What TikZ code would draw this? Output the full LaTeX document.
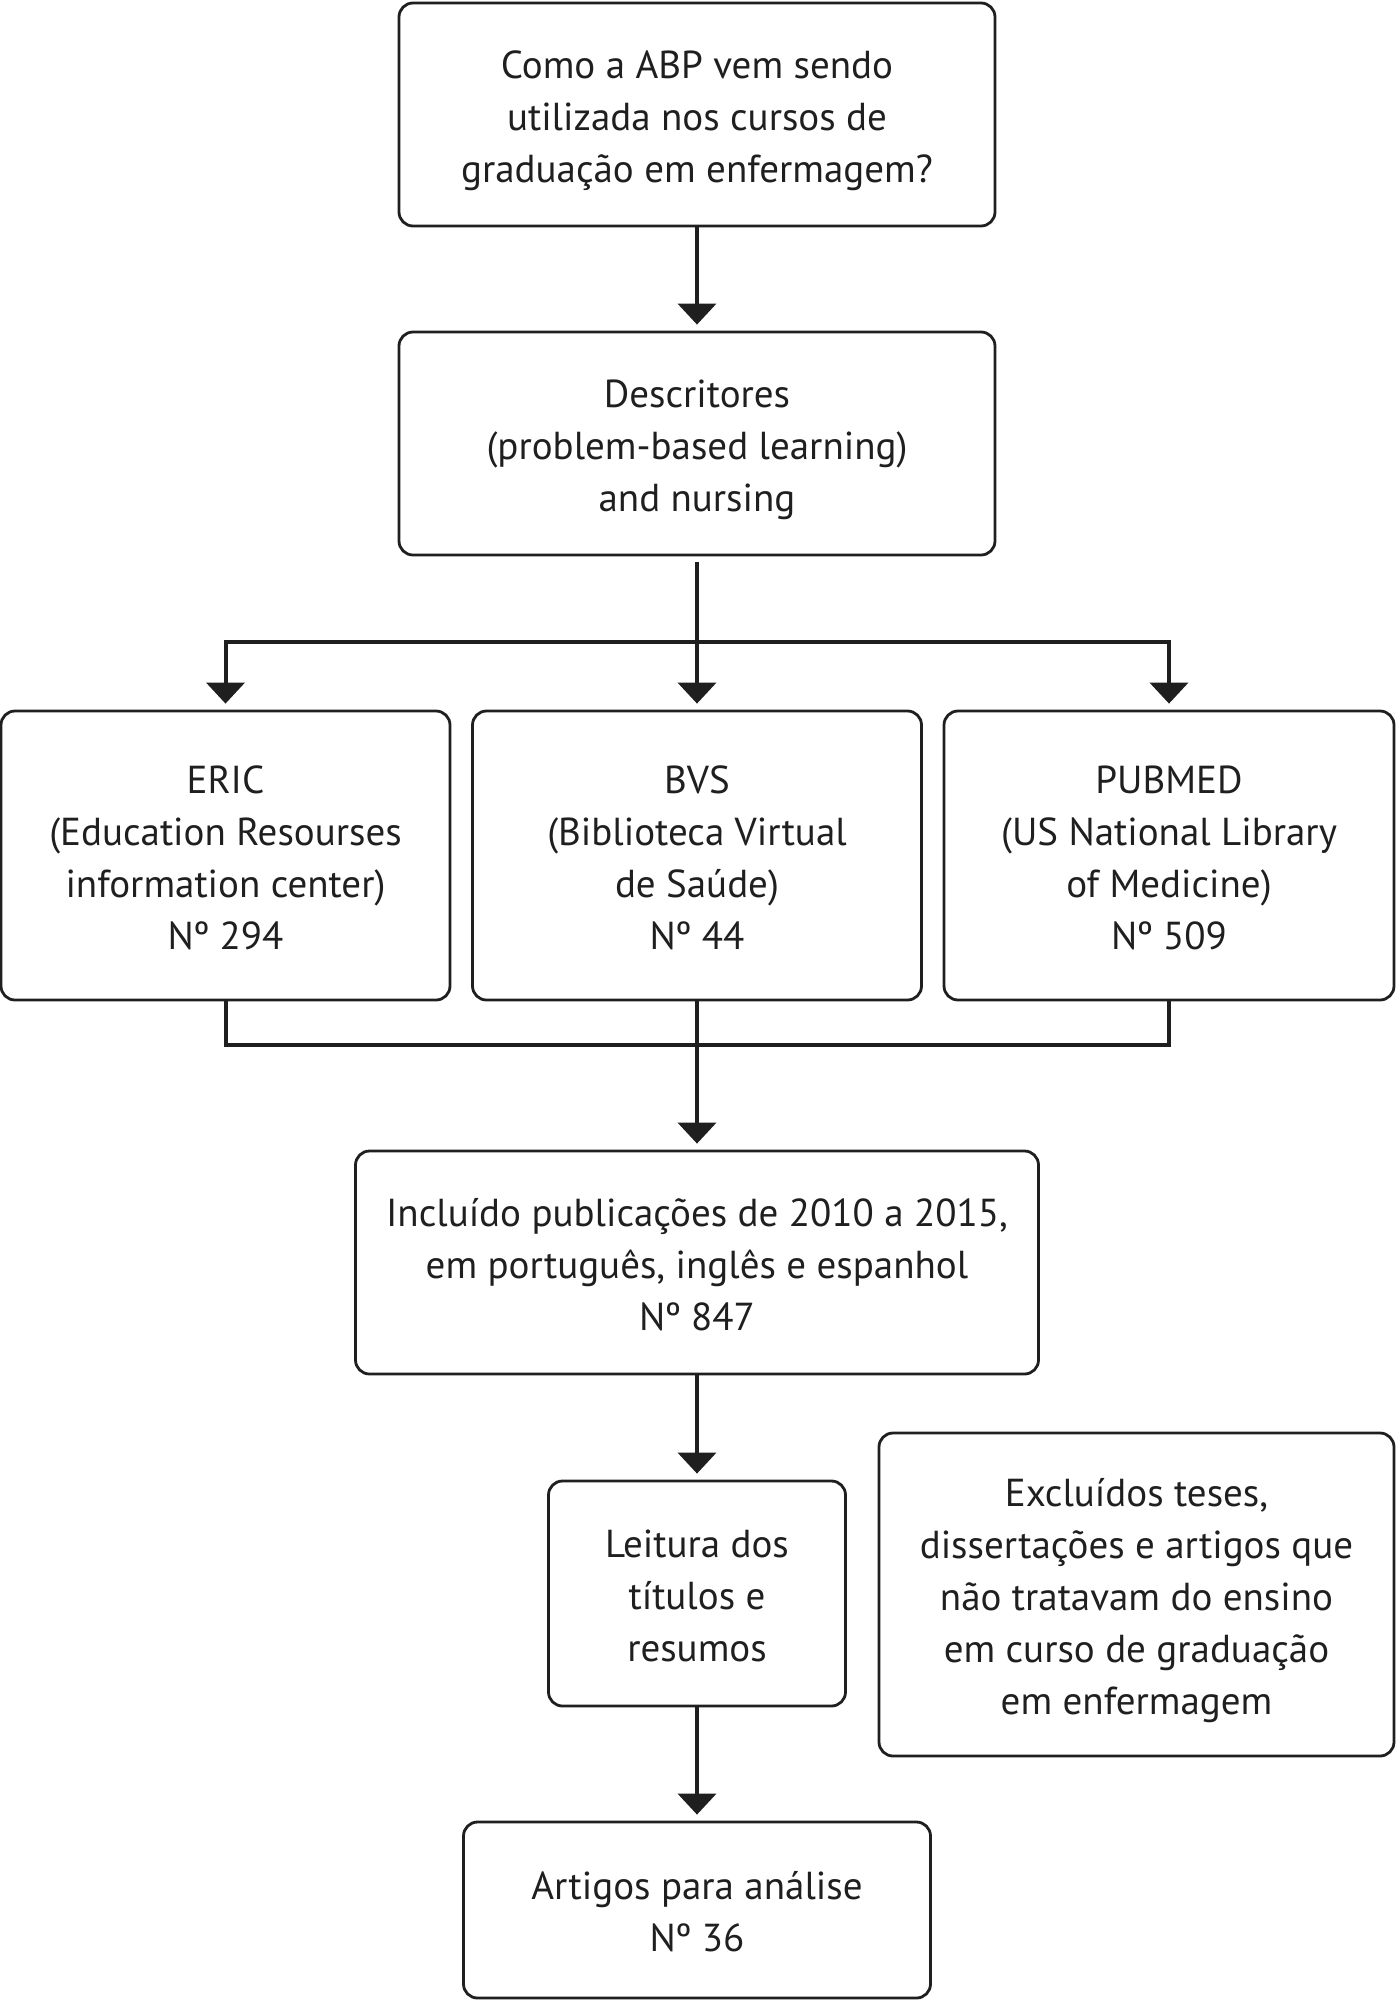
\documentclass[tikz,border=0pt]{standalone}
\usepackage{fontspec}
\setmainfont{PT Sans}
\usetikzlibrary{arrows.meta}
\newcommand{\topstrut}{\rule{0pt}{40pt}}
\newcommand{\botstrut}{\rule[-9pt]{0pt}{9pt}}
\begin{document}
\begin{tikzpicture}[x=1pt,y=-1pt,
  box/.style={draw=black!88,line width=2.8pt,rounded corners=14pt,align=center,
    inner sep=0pt,font=\fontsize{39}{52}\selectfont,text=black!88},
  conn/.style={draw=black!88,line width=4pt},
  arr/.style={conn,-{Triangle[width=38pt,length=21pt]},shorten >=6pt}]
\useasboundingbox (0,0) rectangle (1396,2000);
\node[box,minimum width=596pt,minimum height=223pt] (q) at (697,114.5)
  {\topstrut Como a ABP vem sendo\\utilizada nos cursos de\\graduação em enfermagem?\botstrut};
\node[box,minimum width=596pt,minimum height=223pt] (d) at (697,443.5)
  {\topstrut Descritores\\(problem-based learning)\\and nursing\botstrut};
\node[box,minimum width=449pt,minimum height=289pt] (eric) at (225.5,855.5)
  {\topstrut ERIC\\(Education Resourses\\information center)\\Nº 294\botstrut};
\node[box,minimum width=449pt,minimum height=289pt] (bvs) at (697,855.5)
  {\topstrut BVS\\(Biblioteca Virtual\\de Saúde)\\Nº 44\botstrut};
\node[box,minimum width=450pt,minimum height=289pt] (pub) at (1169,855.5)
  {\topstrut PUBMED\\(US National Library\\of Medicine)\\Nº 509\botstrut};
\node[box,minimum width=683pt,minimum height=223pt] (inc) at (697,1262.5)
  {\topstrut Incluído publicações de 2010 a 2015,\\em português, inglês e espanhol\\Nº 847\botstrut};
\node[box,minimum width=297pt,minimum height=225pt] (lei) at (697,1593.5)
  {\topstrut Leitura dos\\títulos e\\resumos\botstrut};
\node[box,minimum width=515pt,minimum height=323pt] (exc) at (1136.5,1594.5)
  {\topstrut Excluídos teses,\\dissertações e artigos que\\não tratavam do ensino\\em curso de graduação\\em enfermagem\botstrut};
\node[box,minimum width=467pt,minimum height=176pt] (art) at (697,1910)
  {\topstrut Artigos para análise\\Nº 36\botstrut};
% connectors
\draw[arr] (q) -- (d);
\coordinate (j1) at (697,642);
\coordinate (j2) at (697,1045);
\draw[conn] ([yshift=-6pt]d.south) -- (j1);
\draw[arr] (j1) -- (bvs);
\draw[arr] (j1) -| (eric.north);
\draw[arr] (j1) -| (pub.north);
\draw[conn] (eric.south) |- (j2);
\draw[conn] (pub.south) |- (j2);
\draw[conn] (bvs.south) -- (j2);
\draw[arr] (j2) -- (inc);
\draw[arr] (inc) -- (lei);
\draw[arr] (lei) -- (art);
\end{tikzpicture}
\end{document}
